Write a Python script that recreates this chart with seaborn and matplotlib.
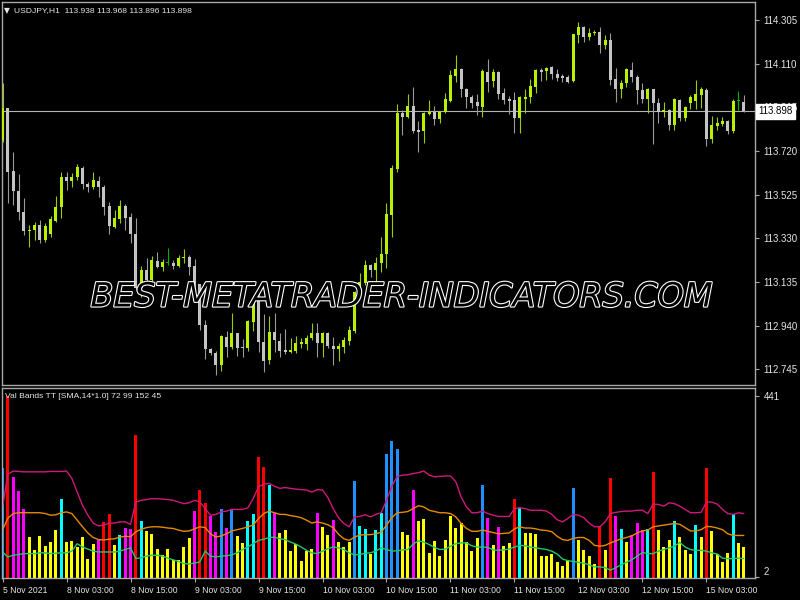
import matplotlib
matplotlib.use("Agg")
import matplotlib.pyplot as plt
import matplotlib.transforms as mtransforms
import matplotlib.patheffects as pe
import seaborn as sns
import numpy as np
import pandas as pd

# USDJPY H1 candles (oldest first)
opens = [113.769, 113.912, 113.631, 113.541, 113.448, 113.363, 113.367, 113.390, 113.323, 113.349,
         113.407, 113.470, 113.604, 113.586, 113.604, 113.644, 113.573, 113.559, 113.586, 113.559,
         113.474, 113.381, 113.416, 113.474, 113.425, 113.349, 113.108, 113.189, 113.144, 113.229,
         113.202, 113.220, 113.220, 113.206, 113.242, 113.247, 113.206, 113.126, 112.943, 112.836,
         112.818, 112.765, 112.890, 112.845, 112.907, 112.845, 112.840, 112.956, 113.055, 112.867,
         112.787, 112.912, 112.872, 112.831, 112.822, 112.827, 112.858, 112.858, 112.885, 112.907,
         112.863, 112.907, 112.849, 112.836, 112.845, 112.872, 112.916, 113.090, 113.130, 113.211,
         113.189, 113.220, 113.260, 113.434, 113.640, 113.890, 113.872, 113.921, 113.814, 113.809,
         113.885, 113.894, 113.863, 113.894, 113.943, 114.055, 114.086, 113.997, 113.961, 113.939,
         113.916, 114.073, 114.032, 114.073, 113.979, 113.952, 113.948, 113.867, 113.952, 113.961,
         114.006, 114.081, 114.077, 114.095, 114.064, 114.055, 114.050, 114.032, 114.238, 114.273,
         114.229, 114.247, 114.251, 114.193, 114.215, 114.041, 113.997, 114.023, 114.081, 114.050,
         113.992, 113.952, 113.997, 113.934, 113.894, 113.903, 113.836, 113.948, 113.867, 113.934,
         113.943, 113.970, 113.992, 113.773, 113.831, 113.840, 113.854, 113.809, 113.943, 113.938]
highs = [114.023, 113.912, 113.715, 113.617, 113.510, 113.390, 113.403, 113.412, 113.399, 113.430,
         113.519, 113.626, 113.626, 113.622, 113.662, 113.653, 113.581, 113.626, 113.608, 113.568,
         113.492, 113.457, 113.501, 113.483, 113.443, 113.421, 113.206, 113.242, 113.251, 113.269,
         113.238, 113.287, 113.233, 113.256, 113.283, 113.256, 113.238, 113.126, 112.965, 112.840,
         112.827, 112.898, 112.916, 112.997, 112.907, 112.881, 112.965, 113.073, 113.108, 112.992,
         112.983, 112.997, 112.907, 112.925, 112.885, 112.894, 112.885, 112.898, 112.952, 112.952,
         112.912, 112.912, 112.890, 112.863, 112.890, 112.939, 113.095, 113.175, 113.233, 113.215,
         113.247, 113.336, 113.488, 113.657, 113.930, 113.903, 113.974, 114.006, 113.854, 113.894,
         113.948, 113.921, 113.898, 113.979, 114.081, 114.148, 114.090, 114.001, 113.970, 113.974,
         114.086, 114.131, 114.086, 114.077, 114.001, 113.965, 113.983, 113.965, 113.997, 114.041,
         114.086, 114.090, 114.095, 114.099, 114.086, 114.064, 114.059, 114.242, 114.296, 114.278,
         114.269, 114.260, 114.273, 114.238, 114.247, 114.090, 114.037, 114.090, 114.117, 114.059,
         114.023, 114.001, 113.997, 113.957, 113.939, 113.907, 113.957, 113.952, 113.921, 113.970,
         114.037, 114.006, 114.001, 113.876, 113.872, 113.872, 113.858, 113.952, 113.988, 113.968]
lows = [113.760, 113.488, 113.479, 113.412, 113.345, 113.291, 113.323, 113.309, 113.314, 113.336,
        113.403, 113.421, 113.546, 113.559, 113.590, 113.550, 113.537, 113.550, 113.515, 113.434,
        113.349, 113.376, 113.399, 113.367, 113.309, 113.099, 113.068, 113.130, 113.135, 113.197,
        113.184, 113.211, 113.193, 113.202, 113.220, 113.166, 113.095, 112.921, 112.791, 112.809,
        112.720, 112.738, 112.800, 112.836, 112.805, 112.800, 112.827, 112.916, 112.822, 112.733,
        112.769, 112.822, 112.800, 112.814, 112.818, 112.818, 112.840, 112.831, 112.876, 112.800,
        112.800, 112.840, 112.765, 112.782, 112.818, 112.854, 112.907, 113.086, 113.122, 113.157,
        113.130, 113.180, 113.197, 113.336, 113.626, 113.791, 113.867, 113.800, 113.715, 113.756,
        113.881, 113.836, 113.845, 113.890, 113.939, 114.028, 113.961, 113.912, 113.912, 113.881,
        113.872, 113.983, 114.006, 113.952, 113.930, 113.885, 113.800, 113.800, 113.890, 113.934,
        113.979, 114.032, 114.037, 114.041, 114.032, 114.028, 114.023, 114.028, 114.202, 114.206,
        114.215, 114.238, 114.157, 114.175, 114.015, 113.939, 113.957, 114.006, 114.028, 113.930,
        113.934, 113.890, 113.751, 113.845, 113.872, 113.814, 113.814, 113.854, 113.854, 113.907,
        113.907, 113.912, 113.742, 113.756, 113.814, 113.831, 113.796, 113.800, 113.903, 113.896]
closes = [113.912, 113.626, 113.541, 113.448, 113.363, 113.367, 113.390, 113.323, 113.385, 113.416,
          113.470, 113.604, 113.586, 113.604, 113.649, 113.573, 113.559, 113.590, 113.559, 113.470,
          113.385, 113.421, 113.474, 113.421, 113.349, 113.108, 113.189, 113.144, 113.233, 113.202,
          113.224, 113.220, 113.206, 113.242, 113.247, 113.202, 113.126, 112.943, 112.836, 112.818,
          112.765, 112.894, 112.845, 112.907, 112.840, 112.840, 112.961, 113.055, 112.867, 112.782,
          112.912, 112.876, 112.827, 112.822, 112.831, 112.863, 112.867, 112.885, 112.907, 112.863,
          112.907, 112.849, 112.836, 112.849, 112.876, 112.921, 113.090, 113.135, 113.211, 113.189,
          113.220, 113.260, 113.439, 113.644, 113.890, 113.872, 113.921, 113.809, 113.805, 113.890,
          113.894, 113.863, 113.894, 113.952, 114.059, 114.086, 113.997, 113.961, 113.934, 113.921,
          114.077, 114.028, 114.073, 113.974, 113.948, 113.943, 113.867, 113.961, 113.961, 114.010,
          114.081, 114.073, 114.090, 114.064, 114.046, 114.046, 114.028, 114.242, 114.273, 114.229,
          114.247, 114.251, 114.193, 114.215, 114.037, 113.997, 114.023, 114.086, 114.050, 113.992,
          113.952, 113.997, 113.934, 113.894, 113.903, 113.836, 113.952, 113.867, 113.916, 113.961,
          113.974, 113.997, 113.773, 113.836, 113.845, 113.854, 113.809, 113.943, 113.943, 113.898]

# Val Bands TT histogram and its three bands
volumes = [267, 441, 245, 211, 166, 99, 69, 102, 78, 86,
           116, 192, 86, 90, 75, 99, 45, 82, 93, 136,
           154, 80, 103, 121, 118, 347, 138, 114, 106, 71,
           55, 71, 43, 44, 74, 97, 162, 214, 181, 149,
           111, 166, 121, 166, 102, 85, 138, 156, 293, 269,
           226, 158, 110, 116, 65, 82, 40, 65, 71, 157,
           123, 103, 140, 88, 74, 86, 234, 126, 118, 59,
           116, 157, 300, 331, 312, 112, 103, 213, 137, 142,
           61, 89, 54, 93, 149, 121, 132, 87, 65, 98,
           226, 145, 81, 123, 78, 85, 192, 170, 110, 110,
           106, 53, 53, 57, 39, 28, 43, 219, 91, 67,
           53, 35, 126, 67, 242, 150, 118, 87, 103, 133,
           116, 118, 256, 116, 75, 93, 137, 99, 69, 59,
           129, 99, 267, 114, 57, 39, 61, 154, 85, 75]
bar_kinds = list("BRMMMYYYYY" "YCYYYYYYMR" "RYCMMRCYYY" "YYYYYYMRRM" "MBMBYYCCRR"
                 "CMYYYYYYYM" "YYMYYYBCCY" "CCBBBYYMYY" "YYYYYYYYYY" "BMYMYYRCYY"
                 "YYYYYYYBYY" "YYRYRMCYMM" "MCRYYYCYYY" "CYRYYYYCYY")
upper_band = [172, 251, 259, 258, 257, 257, 257, 257, 257, 258,
              258, 258, 259, 241, 208, 176, 152, 133, 126, 128,
              133, 133, 136, 136, 130, 184, 188, 190, 192, 192,
              191, 190, 188, 184, 180, 182, 188, 184, 168, 152,
              154, 160, 162, 166, 166, 166, 170, 192, 221, 227,
              229, 222, 217, 219, 217, 215, 214, 213, 208, 214,
              213, 195, 168, 146, 132, 124, 148, 149, 153, 148,
              154, 158, 188, 222, 246, 249, 250, 253, 255, 259,
              249, 245, 246, 247, 247, 233, 196, 172, 158, 158,
              162, 156, 152, 149, 149, 149, 168, 170, 168, 164,
              164, 164, 162, 154, 141, 136, 144, 154, 152, 146,
              133, 124, 124, 136, 156, 159, 161, 162, 162, 164,
              164, 156, 179, 178, 174, 182, 180, 174, 166, 158,
              158, 159, 184, 184, 179, 166, 156, 154, 158, 156]
middle_band = [116, 145, 156, 158, 158, 158, 158, 158, 156, 152,
               153, 158, 160, 156, 140, 124, 109, 98, 93, 92,
               94, 95, 99, 101, 100, 112, 118, 122, 124, 124,
               123, 121, 120, 116, 113, 114, 119, 124, 122, 107,
               99, 102, 107, 114, 117, 120, 124, 128, 144, 156,
               162, 158, 154, 154, 151, 149, 146, 140, 133, 136,
               133, 129, 122, 106, 95, 91, 99, 104, 105, 105,
               107, 111, 128, 146, 158, 159, 161, 168, 175, 172,
               164, 161, 158, 158, 156, 148, 132, 120, 113, 113,
               116, 113, 110, 107, 108, 109, 119, 124, 121, 121,
               119, 116, 115, 112, 101, 93, 91, 96, 98, 98,
               91, 79, 77, 79, 85, 90, 95, 98, 102, 109,
               114, 116, 124, 126, 128, 130, 132, 130, 122, 114,
               114, 117, 125, 124, 121, 117, 107, 103, 103, 103]
lower_band = [63, 51, 55, 57, 59, 59, 59, 61, 61, 59,
              60, 61, 61, 65, 83, 75, 70, 65, 63, 63,
              63, 63, 65, 69, 73, 47, 49, 53, 55, 55,
              53, 48, 44, 40, 35, 34, 36, 39, 65, 53,
              51, 53, 54, 56, 61, 69, 75, 83, 91, 94,
              98, 99, 95, 93, 87, 82, 75, 67, 61, 59,
              65, 71, 75, 73, 69, 61, 56, 57, 60, 61,
              65, 73, 69, 65, 66, 68, 69, 82, 90, 87,
              81, 74, 69, 70, 77, 83, 85, 85, 78, 75,
              75, 74, 68, 67, 68, 70, 75, 79, 78, 75,
              73, 71, 69, 65, 58, 46, 42, 40, 38, 36,
              32, 27, 27, 25, 19, 25, 32, 38, 44, 53,
              62, 59, 59, 65, 69, 73, 77, 86, 75, 69,
              67, 67, 65, 61, 58, 48, 47, 47, 48, 47]

price_levels = [114.305, 114.110, 113.915, 113.720, 113.525, 113.330, 113.135, 112.940, 112.745]
time_ticks = [0, 12, 24, 36, 48, 60, 72, 84, 96, 108, 120, 132]
time_labels = ["5 Nov 2021", "8 Nov 03:00", "8 Nov 15:00", "9 Nov 03:00", "9 Nov 15:00",
               "10 Nov 03:00", "10 Nov 15:00", "11 Nov 03:00", "11 Nov 15:00",
               "12 Nov 03:00", "12 Nov 15:00", "15 Nov 03:00"]
last_price = 113.898

# colours
BULL, BULL_WICK = "#b8f000", "#9ccc00"
BEAR, BEAR_WICK = "#c4c4c4", "#9a9a9a"
DOJI = "#00b400"
FRAME = "#a8a8a8"
TEXT = "#e6e6e6"
hist_palette = {"R": "#ff0000", "M": "#ff00ff", "C": "#00ffff", "B": "#1e90ff", "Y": "#ffff00"}

sns.set_theme(style="dark", rc={"axes.facecolor": "black", "figure.facecolor": "black",
                                "axes.edgecolor": FRAME, "axes.grid": False})
plt.rcParams["font.family"] = ["Liberation Sans", "DejaVu Sans"]

fig = plt.figure(figsize=(8, 6), dpi=100)
ax = fig.add_axes([2 / 800, 1 - 385 / 600, 753 / 800, 383 / 600])
ax2 = fig.add_axes([2 / 800, 1 - 578 / 600, 753 / 800, 190 / 600])

# ---- price panel: candles
o, h, l, c = map(np.asarray, (opens, highs, lows, closes))
idx = np.arange(len(c))
body_col = np.where(c > o, BULL, np.where(c < o, BEAR, DOJI))
wick_col = np.where(c > o, BULL_WICK, np.where(c < o, BEAR_WICK, DOJI))
ax.vlines(idx, l, h, colors=wick_col, lw=0.8, zorder=2)
ax.bar(idx, np.maximum(np.abs(c - o), 0.0045), bottom=np.minimum(o, c),
       width=0.56, color=body_col, linewidth=0, zorder=3)
ax.axhline(last_price, color="#b4b4b4", lw=0.8, zorder=1)

ax.set_xlim(-0.1, 141.1)
ax.set_ylim(112.675, 114.385)
ax.set_xticks([])
ax.yaxis.tick_right()
ax.set_yticks(price_levels, [f"{v:.3f}" for v in price_levels])
ax.tick_params(axis="y", colors=FRAME, labelcolor=TEXT, labelsize=7, length=3, width=0.8,
               pad=3, right=True)

# current price tag sits on top of the 113.915 label, as in the terminal
trans = mtransforms.blended_transform_factory(ax.transAxes, ax.transData)
ax.text(1.004, last_price, "113.898", transform=trans, ha="left", va="center", fontsize=7,
        color="black", zorder=10, clip_on=False,
        bbox=dict(boxstyle="square,pad=0.25", fc="white", ec="white"))

# ---- indicator panel
vol_df = pd.DataFrame({"bar": idx, "value": volumes, "kind": bar_kinds})
sns.barplot(data=vol_df, x="bar", y="value", hue="kind", palette=hist_palette, dodge=False,
            width=0.56, saturation=1, linewidth=0, errorbar=None, legend=False, ax=ax2)
sns.lineplot(x=idx, y=upper_band, color="#d0187a", lw=1, ax=ax2)
sns.lineplot(x=idx, y=middle_band, color="#e68a00", lw=1, ax=ax2)
sns.lineplot(x=idx, y=lower_band, color="#20c86e", lw=1, ax=ax2)

ax2.set_xlim(-0.1, 141.1)
ax2.set_ylim(0, 460)
ax2.set_xlabel("")
ax2.set_ylabel("")
ax2.yaxis.tick_right()
ax2.set_yticks([441, 2], ["441", "2"])
ax2.tick_params(axis="y", colors=FRAME, labelcolor=TEXT, labelsize=7, length=3, width=0.8,
                pad=3, right=True)
ax2.get_yticklabels()[1].set_verticalalignment("bottom")
ax2.set_xticks(time_ticks, time_labels)
ax2.tick_params(axis="x", colors=FRAME, labelcolor=TEXT, labelsize=6.2, length=3, width=0.8,
                pad=3, bottom=True)
for lbl in ax2.get_xticklabels():
    lbl.set_horizontalalignment("left")

for a in (ax, ax2):
    for sp in a.spines.values():
        sp.set_color(FRAME)
        sp.set_linewidth(1)

# ---- texts
fig.text(7 / 800, 1 - 11 / 600, "\u25bc", fontsize=5.5, color=TEXT, ha="center", va="center",
         family="DejaVu Sans")
fig.text(14 / 800, 1 - 11 / 600, "USDJPY,H1  113.938 113.968 113.896 113.898",
         fontsize=6.1, color=TEXT, ha="left", va="center")
fig.text(5 / 800, 1 - 397 / 600, "Val Bands TT [SMA,14*1.0] 72 99 152 45",
         fontsize=6.1, color=TEXT, ha="left", va="center")
fig.text(402 / 800, 1 - 297 / 600, "BEST-METATRADER-INDICATORS.COM", fontsize=24,
         style="italic", color="black", ha="center", va="center", family="DejaVu Sans",
         path_effects=[pe.withStroke(linewidth=1.6, foreground="white")], zorder=20)

fig.savefig("out.png", dpi=100, facecolor="black")
plt.close(fig)
